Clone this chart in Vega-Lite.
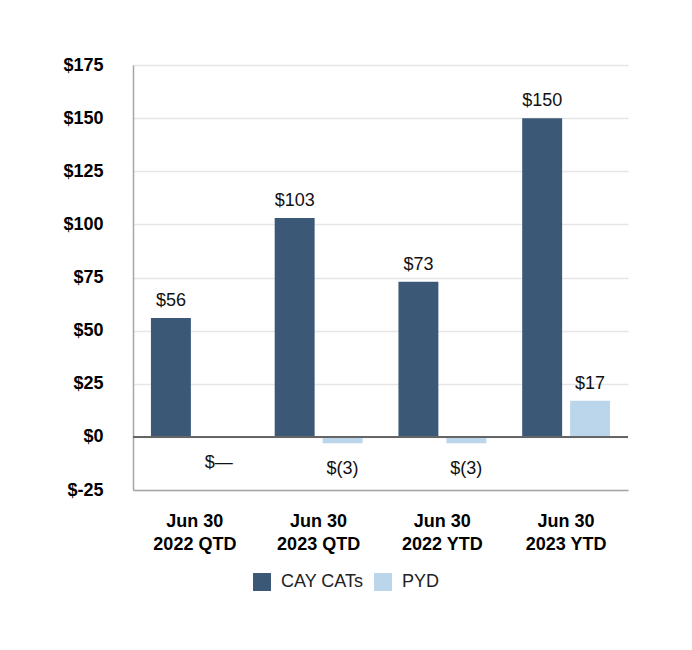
{
  "$schema": "https://vega.github.io/schema/vega-lite/v6.json",
  "autosize": {"type": "none"},
  "padding": {"left": 133, "top": 65, "right": 64, "bottom": 160},
  "width": 495,
  "height": 425,
  "background": "white",
  "config": {
    "view": {"stroke": null},
    "font": "Liberation Sans"
  },
  "data": {
    "values": [
      {"period": "Jun 30 2022 QTD", "series": "CAY CATs", "value": 56, "label": "$56"},
      {"period": "Jun 30 2022 QTD", "series": "PYD", "value": 0, "label": "$—"},
      {"period": "Jun 30 2023 QTD", "series": "CAY CATs", "value": 103, "label": "$103"},
      {"period": "Jun 30 2023 QTD", "series": "PYD", "value": -3, "label": "$(3)"},
      {"period": "Jun 30 2022 YTD", "series": "CAY CATs", "value": 73, "label": "$73"},
      {"period": "Jun 30 2022 YTD", "series": "PYD", "value": -3, "label": "$(3)"},
      {"period": "Jun 30 2023 YTD", "series": "CAY CATs", "value": 150, "label": "$150"},
      {"period": "Jun 30 2023 YTD", "series": "PYD", "value": 17, "label": "$17"}
    ]
  },
  "encoding": {
    "x": {
      "field": "period", "type": "nominal", "sort": null,
      "scale": {"paddingInner": 0.29, "paddingOuter": 0.145},
      "axis": {
        "title": null, "labelAngle": 0, "ticks": false,
        "domain": true, "domainColor": "#a6a6a6", "domainWidth": 1.5,
        "labelFont": "Liberation Sans", "labelFontSize": 18, "labelFontWeight": "bold",
        "labelColor": "#000000", "labelPadding": 22, "labelLineHeight": 23,
        "labelExpr": "[slice(datum.label, 0, 6), slice(datum.label, 7)]"
      }
    },
    "xOffset": {
      "field": "series", "type": "nominal", "sort": ["CAY CATs", "PYD"],
      "scale": {"paddingInner": 0.1667, "paddingOuter": 0}
    },
    "y": {
      "field": "value", "type": "quantitative",
      "scale": {"domain": [-25, 175], "nice": false, "zero": false},
      "axis": {
        "title": null, "values": [-25, 0, 25, 50, 75, 100, 125, 150, 175],
        "ticks": false, "domain": true, "domainColor": "#a6a6a6", "domainWidth": 1.5,
        "grid": true, "gridColor": "#e6e6e6", "gridWidth": 1.5,
        "labelFont": "Liberation Sans", "labelFontSize": 18, "labelFontWeight": "bold",
        "labelColor": "#000000", "labelPadding": 30,
        "labelExpr": "'$' + datum.value"
      }
    }
  },
  "layer": [
    {
      "mark": {"type": "bar"},
      "encoding": {
        "color": {
          "field": "series", "type": "nominal", "sort": ["CAY CATs", "PYD"],
          "scale": {"domain": ["CAY CATs", "PYD"], "range": ["#3b5977", "#bbd5ea"]},
          "legend": {
            "title": null, "orient": "none", "legendX": 120, "legendY": 508,
            "direction": "horizontal", "symbolType": "square", "symbolSize": 324,
            "symbolStrokeWidth": 0, "labelFont": "Liberation Sans", "labelFontSize": 18,
            "labelColor": "#222222", "labelOffset": 10, "columnPadding": 10, "padding": 0
          }
        }
      }
    },
    {
      "mark": {"type": "rule", "color": "#666666", "strokeWidth": 1.5},
      "encoding": {"y": {"datum": 0}, "x": null, "xOffset": null}
    },
    {
      "transform": [{"filter": "datum.value > 0"}],
      "mark": {"type": "text", "baseline": "bottom", "dy": -8, "fontSize": 18, "font": "Liberation Sans", "color": "#111111"},
      "encoding": {"text": {"field": "label"}}
    },
    {
      "transform": [{"filter": "datum.value <= 0"}],
      "mark": {"type": "text", "baseline": "top", "dy": 17, "fontSize": 18, "font": "Liberation Sans", "color": "#111111"},
      "encoding": {"text": {"field": "label"}}
    }
  ]
}
